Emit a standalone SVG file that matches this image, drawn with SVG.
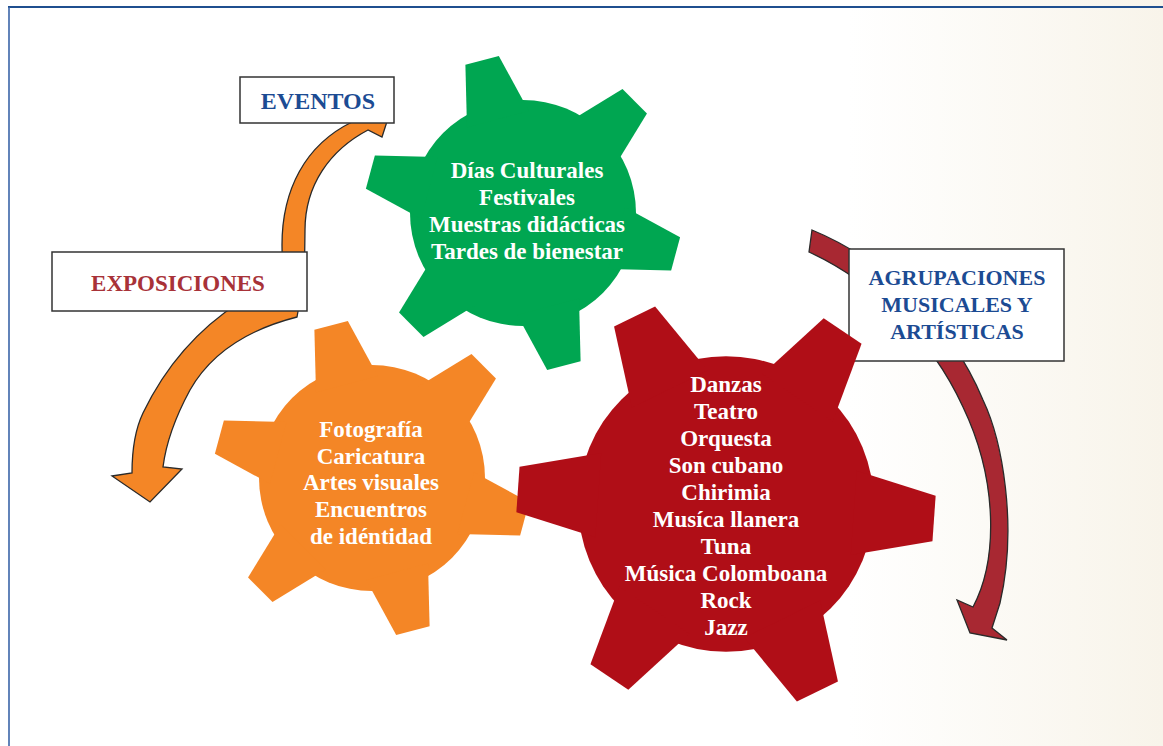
<svg xmlns="http://www.w3.org/2000/svg" xmlns:xlink="http://www.w3.org/1999/xlink" width="1163" height="746" viewBox="0 0 1163 746">
<style>
.lbl{font-family:"Liberation Serif",serif;font-weight:bold;text-anchor:middle}
.gt{font-family:"Liberation Serif",serif;font-weight:bold;font-size:23px;fill:#ffffff;text-anchor:middle}
.box{fill:#ffffff;stroke:#333333;stroke-width:1.5}
.arrO{fill:#f48626;stroke:#2a2a2a;stroke-width:1.3;stroke-linejoin:miter}
.arrR{fill:#a82832;stroke:#2a2a2a;stroke-width:1.3;stroke-linejoin:miter}
</style>
<defs>
<linearGradient id="bg" x1="0" y1="0" x2="1" y2="0">
<stop offset="0" stop-color="#ffffff"/>
<stop offset="0.73" stop-color="#ffffff"/>
<stop offset="1" stop-color="#f8f4ea"/>
</linearGradient>
<polygon id="tooth" points="-17.3,-158 17.3,-158 32,-97 -32,-97"/>
</defs>
<rect x="0" y="0" width="1163" height="746" fill="url(#bg)"/>
<line x1="8" y1="7" x2="1163" y2="7" stroke="#1f4f8f" stroke-width="2"/>
<line x1="9" y1="7" x2="9" y2="746" stroke="#3a65a8" stroke-width="1.6"/>

<g id="connectors">
<path class="arrO" d="M283,305 L282,245 C282,190 305,145 352,122 L338,100 L392,106 L382,137 L368,130 C330,150 305,185 305,230 L304,305 Z"/>
<path class="arrO" d="M240,302 Q177,342.5 143,413 Q132,436 132,473 L112,476 L150,502 L182,469 L163,467 Q167.5,431.5 190,390 Q220.5,336.5 297,317 L300,300 Z"/>
<path class="arrR" d="M812,230 C880,258 950,320 983,400 C1002,440 1018,525 1000,603 L992,628 L1007,640 L970,633 L957,600 L973,607 C998,560 998,480 963,407 C930,335 870,280 809,252 Z"/>
</g>

<g id="node-eventos">
<rect class="box" x="240" y="77" width="154" height="46"/>
<text class="lbl" x="318" y="109" font-size="24" fill="#1c4b93">EVENTOS</text>
</g>
<g id="node-exposiciones">
<rect class="box" x="52" y="252" width="255" height="59"/>
<text class="lbl" x="178" y="291" font-size="23" fill="#a83238">EXPOSICIONES</text>
</g>
<g id="node-agrupaciones">
<rect class="box" x="849" y="249" width="215" height="112"/>
<text class="lbl" x="957" y="285" font-size="22" fill="#1c4b93">AGRUPACIONES</text>
<text class="lbl" x="957" y="312" font-size="22" fill="#1c4b93">MUSICALES Y</text>
<text class="lbl" x="957" y="339" font-size="22" fill="#1c4b93">ARTÍSTICAS</text>
</g>

<g id="gear-orange">
<g transform="translate(372,478)" fill="#f48626">
<circle r="113"/>
<use xlink:href="#tooth" transform="rotate(-15)"/>
<use xlink:href="#tooth" transform="rotate(45)"/>
<use xlink:href="#tooth" transform="rotate(105)"/>
<use xlink:href="#tooth" transform="rotate(165)"/>
<use xlink:href="#tooth" transform="rotate(225)"/>
<use xlink:href="#tooth" transform="rotate(285)"/>
</g>
<text class="gt" x="371" y="437">Fotografía</text>
<text class="gt" x="371" y="464">Caricatura</text>
<text class="gt" x="371" y="490">Artes visuales</text>
<text class="gt" x="371" y="517">Encuentros</text>
<text class="gt" x="371" y="544">de idéntidad</text>
</g>

<g id="gear-green">
<g transform="translate(523,213)" fill="#00a651">
<circle r="113"/>
<use xlink:href="#tooth" transform="rotate(-15)"/>
<use xlink:href="#tooth" transform="rotate(45)"/>
<use xlink:href="#tooth" transform="rotate(105)"/>
<use xlink:href="#tooth" transform="rotate(165)"/>
<use xlink:href="#tooth" transform="rotate(225)"/>
<use xlink:href="#tooth" transform="rotate(285)"/>
</g>
<text class="gt" x="527" y="178">Días Culturales</text>
<text class="gt" x="527" y="205">Festivales</text>
<text class="gt" x="527" y="232">Muestras didácticas</text>
<text class="gt" x="527" y="259">Tardes de bienestar</text>
</g>

<g id="gear-red">
<g transform="translate(726,504) scale(1.32)" fill="#b00e17">
<circle r="112"/>
<use xlink:href="#tooth" transform="rotate(-26)"/>
<use xlink:href="#tooth" transform="rotate(34)"/>
<use xlink:href="#tooth" transform="rotate(94)"/>
<use xlink:href="#tooth" transform="rotate(154)"/>
<use xlink:href="#tooth" transform="rotate(214)"/>
<use xlink:href="#tooth" transform="rotate(274)"/>
</g>
<text class="gt" x="726" y="392">Danzas</text>
<text class="gt" x="726" y="419">Teatro</text>
<text class="gt" x="726" y="446">Orquesta</text>
<text class="gt" x="726" y="473">Son cubano</text>
<text class="gt" x="726" y="500">Chirimia</text>
<text class="gt" x="726" y="527">Musíca llanera</text>
<text class="gt" x="726" y="554">Tuna</text>
<text class="gt" x="726" y="581">Música Colomboana</text>
<text class="gt" x="726" y="608">Rock</text>
<text class="gt" x="726" y="635">Jazz</text>
</g>
</svg>
